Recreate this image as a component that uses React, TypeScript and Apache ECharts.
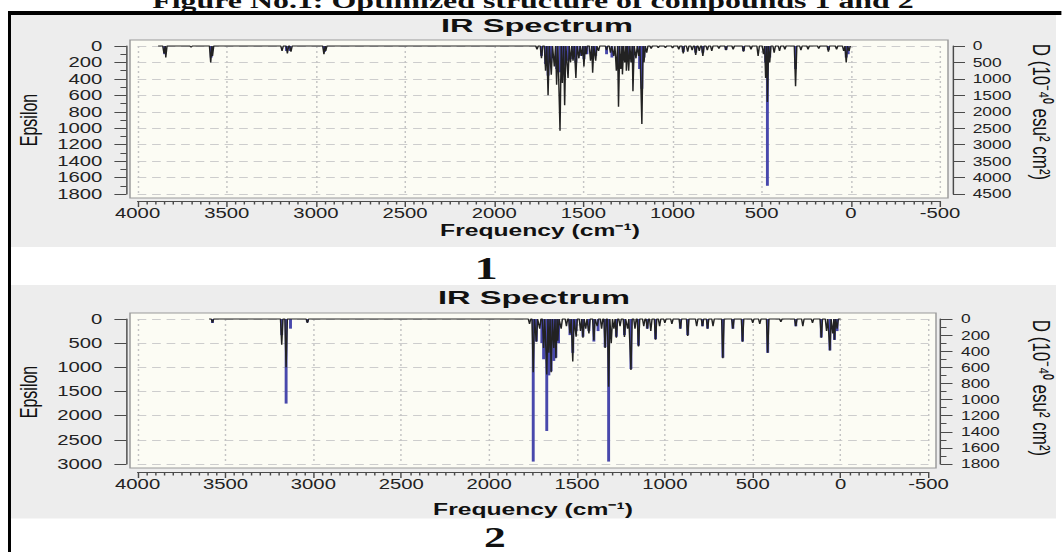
import React, { useEffect, useRef } from "react";
import * as echarts from "echarts";

// ---------------- data ----------------
const freqTicks = [4000, 3500, 3000, 2500, 2000, 1500, 1000, 500, 0, -500];
const eps1Ticks = [0, 200, 400, 600, 800, 1000, 1200, 1400, 1600, 1800];
const d1Ticks = [0, 500, 1000, 1500, 2000, 2500, 3000, 3500, 4000, 4500];
const eps2Ticks = [0, 500, 1000, 1500, 2000, 2500, 3000];
const d2Ticks = [0, 200, 400, 600, 800, 1000, 1200, 1400, 1600, 1800];

// Compound 1 : broadened spectrum (Epsilon) dips and stick intensities (D)
const line1Range = [3885, 0];
const line1Freq = [3852, 3842, 3700, 3590, 3580, 3190, 3160, 3140, 2955, 2945,
  1760, 1735, 1712, 1698, 1680, 1663, 1650, 1631, 1618, 1605, 1586, 1572, 1558, 1542, 1525, 1510, 1497, 1485,
  1460, 1448, 1431, 1415, 1370, 1348, 1330, 1315, 1303, 1290, 1281, 1268, 1259, 1246, 1233, 1222, 1205, 1190,
  1172, 1160, 1145, 1120, 1080, 1040, 1000, 965, 940, 915, 890, 870, 850, 830, 805, 780, 740, 700, 660, 602,
  560, 520, 490, 478, 468, 455, 430, 400, 370, 310, 280, 240, 180, 126, 80, 40, 26, 10];
const line1Eps = [90, 140, 15, 200, 120, 60, 90, 70, 100, 60,
  40, 150, 300, 600, 350, 250, 470, 1030, 450, 720, 390, 200, 180, 390, 150, 120, 250, 100,
  180, 325, 180, 60, 50, 80, 120, 300, 740, 280, 345, 200, 300, 300, 200, 550, 150, 120,
  950, 200, 80, 30, 20, 20, 25, 40, 90, 70, 50, 110, 60, 120, 50, 60, 30, 50, 40, 70,
  40, 120, 100, 390, 680, 200, 80, 60, 40, 490, 50, 40, 30, 70, 40, 60, 200, 60];
const stick1Freq = [3848, 3587, 3165, 3145, 2952, 1735, 1712, 1698, 1683, 1650, 1631, 1615, 1605, 1586, 1560,
  1542, 1520, 1497, 1480, 1448, 1431, 1370, 1340, 1303, 1281, 1259, 1246, 1222, 1185, 1172, 1160, 940, 870,
  830, 700, 602, 478, 468, 455, 310, 126, 26, 15];
const stick1D = [250, 350, 150, 150, 180, 300, 550, 900, 500, 700, 800, 650, 600, 450, 400,
  500, 300, 400, 250, 400, 300, 250, 350, 650, 450, 400, 350, 500, 700, 1300, 350, 180, 200,
  200, 120, 150, 500, 4250, 350, 700, 120, 350, 250];

// Compound 2
const line2Range = [3594, 0];
const line2Freq = [3574, 3180, 3155, 3034,
  1770, 1749, 1731, 1712, 1690, 1672, 1660, 1647, 1632, 1620, 1609, 1590, 1560, 1540, 1524, 1505, 1480, 1466,
  1450, 1432, 1404, 1385, 1360, 1340, 1320, 1305, 1290, 1276, 1255, 1230, 1212, 1193, 1170, 1150, 1120, 1100,
  1080, 1053, 1030, 1000, 960, 912, 870, 819, 786, 757, 726, 670, 613, 558, 500, 460, 415, 340, 255, 215, 160,
  110, 80, 61, 45, 35, 20];
const line2Eps = [75, 530, 1000, 80,
  100, 1100, 470, 200, 600, 1150, 700, 1100, 600, 810, 450, 200, 150, 300, 880, 365, 250, 390,
  200, 300, 440, 150, 200, 600, 1400, 500, 200, 390, 150, 370, 200, 1055, 200, 570, 150, 200,
  250, 430, 150, 80, 100, 200, 350, 150, 150, 200, 150, 810, 200, 470, 80, 100, 700, 60, 150, 150, 80,
  390, 250, 650, 300, 430, 200];
const stick2Freq = [3574, 3180, 3155, 3130, 3034, 1749, 1731, 1700, 1690, 1672, 1660, 1647, 1632, 1620, 1605,
  1540, 1524, 1505, 1466, 1432, 1404, 1380, 1340, 1320, 1276, 1230, 1193, 1150, 1100, 1053, 912, 870, 786,
  757, 670, 613, 558, 415, 255, 110, 61, 35, 20];
const stick2D = [50, 200, 1050, 120, 40, 1770, 280, 300, 500, 1390, 700, 650, 520, 480, 300,
  200, 420, 150, 220, 150, 280, 150, 350, 1770, 220, 200, 620, 330, 120, 250, 120, 200, 90,
  120, 480, 120, 280, 420, 90, 230, 390, 260, 150];

// ---------------- layout / style ----------------
const SX = 1.45; // the reference figure is stretched horizontally
const W = 1062;
const H = 552;
const CW = W / SX;
const X = (px: number) => px / SX;
const HW = 7; // half width of a drawn dip, cm-1

const range = (t: number[]) => ({ min: Math.min(...t), max: Math.max(...t), interval: Math.abs(t[1] - t[0]) });
const plain = (v: number) => String(v);

function spectrum(r: number[], freqs: number[], eps: number[]) {
  const pts: number[][] = [[r[0], 0]];
  freqs.forEach((f, i) => {
    pts.push([f + HW, 0], [f, eps[i]], [f - HW, 0]);
  });
  pts.push([r[1], 0]);
  return pts;
}
const sticks = (freqs: number[], d: number[]) => freqs.map((f, i) => [f, d[i]]);

const AX = "#4a4a4a";
const SANS = '"Liberation Sans", Arial, sans-serif';

function xAxisOpt(gridIndex: number, offset: number) {
  return {
    type: "value", gridIndex, inverse: true, ...range(freqTicks), position: "bottom", offset,
    axisLine: { show: true, onZero: false, lineStyle: { color: AX, width: 1 } },
    axisTick: { show: true, length: 6, lineStyle: { color: AX } },
    minorTick: { show: true, splitNumber: 10, length: 3.5, lineStyle: { color: AX } },
    axisLabel: { margin: 5, color: "#222", fontFamily: SANS, fontSize: 14, formatter: plain },
    splitLine: { show: true, lineStyle: { color: "#c4c4c4", type: [2, 3], width: 1 } },
  };
}
function yAxisOpt(gridIndex: number, ticks: number[], position: string, offset: number, margin: number,
  fontSize: number, split: boolean, minor: boolean) {
  return {
    type: "value", gridIndex, inverse: true, ...range(ticks), position, offset,
    axisLine: { show: true, onZero: false, lineStyle: { color: AX, width: 1 } },
    axisTick: { show: true, length: X(12), lineStyle: { color: AX } },
    minorTick: { show: minor, splitNumber: 2, length: X(6), lineStyle: { color: AX } },
    axisLabel: { margin, color: "#222", fontFamily: SANS, fontSize, formatter: plain },
    splitLine: { show: split, lineStyle: { color: "#cdcdcd", type: [6, 4], width: 1 } },
  };
}

function text(t: string, x: number, y: number, font: string, extra: any = {}) {
  return {
    type: "text", x: X(x), y, z: 20, ...extra,
    style: { text: t, font, fill: "#111", textAlign: "center", textVerticalAlign: "middle" },
  };
}
function rect(x: number, y: number, w: number, h: number, style: any, z = -10) {
  return { type: "rect", z, shape: { x: X(x), y, width: X(w), height: h }, style };
}

function buildOption() {
  const panelStyle = { fill: "#ededed" };
  const plotStyle = { fill: "#fcfcf4", stroke: "#9a9a9a", lineWidth: 1 };
  return {
    animation: false,
    grid: [
      { left: X(137.6), top: 46, width: X(940 - 137.6), height: 148 },
      { left: X(137.6), top: 319, width: X(928.5 - 137.6), height: 145 },
    ],
    xAxis: [xAxisOpt(0, 7), xAxisOpt(1, 8)],
    yAxis: [
      yAxisOpt(0, eps1Ticks, "left", X(11.2), X(24), 14, true, true),
      yAxisOpt(0, d1Ticks, "right", X(13), X(19.7), 12, false, false),
      yAxisOpt(1, eps2Ticks, "left", X(11.2), X(24), 14, true, false),
      yAxisOpt(1, d2Ticks, "right", X(12), X(20.5), 12, false, true),
    ],
    series: [
      {
        type: "bar", xAxisIndex: 0, yAxisIndex: 1, data: sticks(stick1Freq, stick1D), barWidth: 2,
        itemStyle: { color: "#4848ac" }, z: 2,
      },
      {
        type: "line", xAxisIndex: 0, yAxisIndex: 0, data: spectrum(line1Range, line1Freq, line1Eps),
        symbol: "none", clip: false, lineStyle: { color: "#222", width: 1 }, z: 3,
      },
      {
        type: "bar", xAxisIndex: 1, yAxisIndex: 3, data: sticks(stick2Freq, stick2D), barWidth: 2,
        itemStyle: { color: "#4848ac" }, z: 2,
      },
      {
        type: "line", xAxisIndex: 1, yAxisIndex: 2, data: spectrum(line2Range, line2Freq, line2Eps),
        symbol: "none", clip: false, lineStyle: { color: "#222", width: 1 }, z: 3,
      },
    ],
    graphic: [
      rect(11, 15, 1045, 232, panelStyle, -20),
      rect(11, 285, 1045, 233.5, panelStyle, -20),
      rect(130, 40, 818, 158, plotStyle, -10),
      rect(130, 313, 806, 155, plotStyle, -10),
      text("Figure No.1: Optimized structure of compounds 1 and 2", 533, 1, 'bold 22px "Liberation Serif", serif'),
      rect(8, 11, 1054, 4, { fill: "#000" }, 30),
      rect(8, 11, 3, 541, { fill: "#000" }, 30),
      text("IR Spectrum", 537, 26, `bold 18px ${SANS}`, { scaleX: 1.25 }),
      text("IR Spectrum", 534, 298, `bold 18px ${SANS}`, { scaleX: 1.25 }),
      text("Frequency (cm⁻¹)", 540, 230, `bold 17px ${SANS}`),
      text("Frequency (cm⁻¹)", 533, 509, `bold 17px ${SANS}`),
      text("Epsilon", 29, 120, `16px ${SANS}`, { rotation: Math.PI / 2 }),
      text("Epsilon", 29, 392, `16px ${SANS}`, { rotation: Math.PI / 2 }),
      text("D (10⁻⁴⁰ esu² cm²)", 1042, 112, `17px ${SANS}`, { rotation: -Math.PI / 2 }),
      text("D (10⁻⁴⁰ esu² cm²)", 1042, 388, `17px ${SANS}`, { rotation: -Math.PI / 2 }),
      text("1", 486, 268, 'bold 32px "Liberation Serif", serif'),
      text("2", 495, 536.5, 'bold 30px "Liberation Serif", serif'),
    ],
  };
}

export default function App() {
  const ref = useRef<HTMLDivElement>(null);
  useEffect(() => {
    if (!ref.current) return;
    const chart = echarts.init(ref.current, null, { renderer: "svg", width: CW, height: H });
    chart.setOption(buildOption() as any);
    return () => chart.dispose();
  }, []);
  return (
    <div style={{ position: "fixed", left: 0, top: 0, width: W, height: H, background: "#fff", overflow: "hidden" }}>
      <div ref={ref} style={{ width: CW, height: H, transform: `scaleX(${SX})`, transformOrigin: "0 0" }} />
    </div>
  );
}
